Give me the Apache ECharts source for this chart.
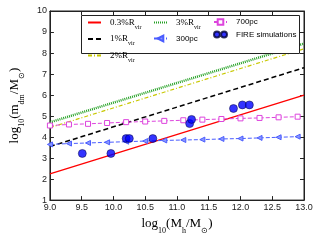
<!DOCTYPE html>
<html><head><meta charset="utf-8">
<script src="https://cdn.jsdelivr.net/npm/echarts@6/dist/echarts.min.js"></script>
<style>html,body{margin:0;padding:0;background:#fff}#c{width:320px;height:240px}</style>
</head><body><div id="c"></div>
<script>
// analytic lines: [x, y] endpoints
const xEnds = [9.0, 13.0];
const r03 = [2.25, 6.0];
const r1 = [3.55, 7.3];
const r2 = [4.45, 8.2];
const r3 = [4.7, 8.45];
// sampled radii series
const xSample = [9.0, 9.3, 9.6, 9.9, 10.2, 10.5, 10.8, 11.1, 11.4, 11.7, 12.0, 12.3, 12.6, 12.9];
const pc700 = [4.55, 4.6, 4.63, 4.67, 4.71, 4.74, 4.77, 4.8, 4.83, 4.86, 4.89, 4.91, 4.94, 4.97];
const pc300 = [3.65, 3.69, 3.72, 3.75, 3.78, 3.81, 3.84, 3.86, 3.88, 3.91, 3.93, 3.96, 3.99, 4.02];
// FIRE simulations
const fireX = [9.51, 9.96, 10.2, 10.25, 10.62, 11.2, 11.23, 11.89, 12.03, 12.14];
const fireY = [3.22, 3.22, 3.93, 3.93, 3.93, 4.64, 4.84, 5.36, 5.53, 5.53];
const xTicks = [9.0, 9.5, 10.0, 10.5, 11.0, 11.5, 12.0, 12.5, 13.0];
const yTicks = [1, 2, 3, 4, 5, 6, 7, 8, 9, 10];

const pair = (xs, ys) => xs.map((x, i) => [x, ys[i]]);
const serif = 'Liberation Serif';
const sans = 'Liberation Sans';
const richSub = {
  sub: {fontFamily: serif, fontSize: 6, verticalAlign: 'bottom', padding: [0,0,-3,0], color: '#000'},
  n: {fontFamily: serif, fontSize: 9, color: '#000'}
};
const fmtLegend = (name) => {
  if (name.indexOf('Rvir') >= 0) return '{n|' + name.replace('Rvir', 'R') + '}{sub|vir}';
  return name;
};
const noSym = {opacity: 0};

const chart = echarts.init(document.getElementById('c'), null, {renderer: 'canvas'});
const legendBase = {
  orient: 'vertical', padding: 0, itemWidth: 13, itemHeight: 7, itemGap: 4.5,
  backgroundColor: 'transparent', borderWidth: 0, selectedMode: false, z: 5,
  textStyle: {fontFamily: sans, fontSize: 8, color: '#000', rich: richSub, padding: [0, 0, 0, 4]},
  formatter: fmtLegend
};
chart.setOption({
  animation: false,
  grid: {left: 36, right: 16, top: 11, bottom: 34, show: true, borderColor: '#222', borderWidth: 1, backgroundColor: 'transparent'},
  xAxis: [{
    type: 'value', min: 9, max: 13, interval: 0.5,
    axisLine: {show: true, onZero: false, lineStyle: {color: '#222'}},
    axisTick: {show: true, inside: true, length: 4, lineStyle: {color: '#222'}},
    axisLabel: {fontFamily: sans, fontSize: 9, color: '#222', margin: 3, formatter: v => v.toFixed(1)},
    splitLine: {show: false},
    name: 'log{sub|10}(M{sub|h}/M{sub|⊙})', nameLocation: 'middle', nameGap: 14,
    nameTextStyle: {fontFamily: serif, fontSize: 13, color: '#000', rich: {sub: {fontFamily: serif, fontSize: 8, verticalAlign: 'bottom', padding: [0,0,-5,0], color:'#000'}}}
  }, {
    type: 'value', position: 'top', min: 9, max: 13, interval: 0.5,
    axisLine: {show: true, onZero: false, lineStyle: {color: '#222'}},
    axisTick: {show: true, inside: true, length: 4, lineStyle: {color: '#222'}},
    axisLabel: {show: false}, splitLine: {show: false}
  }],
  yAxis: [{
    type: 'value', min: 1, max: 10, interval: 1,
    axisLine: {show: true, onZero: false, lineStyle: {color: '#222'}},
    axisTick: {show: true, inside: true, length: 4, lineStyle: {color: '#222'}},
    axisLabel: {fontFamily: sans, fontSize: 9, color: '#222', margin: 3},
    splitLine: {show: false},
    name: 'log{sub|10}(m{sub|dm}/M{sub|⊙})', nameLocation: 'middle', nameGap: 15, nameRotate: 90,
    nameTextStyle: {fontFamily: serif, fontSize: 13, color: '#000', rich: {sub: {fontFamily: serif, fontSize: 8, verticalAlign: 'bottom', padding: [0,0,-5,0], color:'#000'}}}
  }, {
    type: 'value', position: 'right', min: 1, max: 10, interval: 1,
    axisLine: {show: true, onZero: false, lineStyle: {color: '#222'}},
    axisTick: {show: true, inside: true, length: 4, lineStyle: {color: '#222'}},
    axisLabel: {show: false}, splitLine: {show: false}
  }],
  graphic: [{
    type: 'rect', shape: {x: 81.5, y: 15.5, width: 218, height: 38}, z: 4,
    style: {fill: '#fff', stroke: '#222', lineWidth: 1}
  }],
  legend: [
    Object.assign({}, legendBase, {left: 87, top: 18, data: [
      {name: '0.3%Rvir', itemStyle: noSym}, {name: '1%Rvir', itemStyle: noSym}, {name: '2%Rvir', itemStyle: noSym}]}),
    Object.assign({}, legendBase, {left: 153, top: 18, data: [{name: '3%Rvir', itemStyle: noSym}, '300pc']}),
    Object.assign({}, legendBase, {left: 213, top: 18, data: ['700pc', {name: 'FIRE simulations', icon: 'path://M0,5a5,5 0 1,0 10,0a5,5 0 1,0 -10,0M12,5a5,5 0 1,0 10,0a5,5 0 1,0 -10,0'}]})
  ],
  series: [
    {name: '0.3%Rvir', type: 'line', data: pair(xEnds, r03), symbol: 'none', lineStyle: {color: '#ff0000', width: 1.3}, itemStyle: {color: '#ff0000'}},
    {name: '1%Rvir', type: 'line', data: pair(xEnds, r1), symbol: 'none', lineStyle: {color: '#000', width: 1.5, type: [5, 3]}, itemStyle: {color: '#000'}},
    {name: '2%Rvir', type: 'line', data: pair(xEnds, r2), symbol: 'none', lineStyle: {color: '#c8c800', width: 1.2, type: [4, 2, 1, 2]}, itemStyle: {color: '#c8c800'}},
    {name: '3%Rvir', type: 'line', data: pair(xEnds, r3), symbol: 'none', lineStyle: {color: '#22a022', width: 2.5, type: [1, 1]}, itemStyle: {color: '#22a022'}},
    {name: '300pc', type: 'line', data: pair(xSample, pc300), symbol: 'triangle', symbolSize: 5, symbolRotate: 90,
      lineStyle: {color: '#4a5cff', width: 1, type: [4, 2]}, itemStyle: {color: '#8a98ff', borderColor: '#4a5cff', borderWidth: 1}},
    {name: '700pc', type: 'line', data: pair(xSample, pc700), symbol: 'rect', symbolSize: 5,
      lineStyle: {color: '#dd44dd', width: 1, type: [4, 2]}, itemStyle: {color: '#fff', borderColor: '#dd44dd', borderWidth: 1}},
    {name: 'FIRE simulations', type: 'scatter', data: pair(fireX, fireY), symbol: 'circle', symbolSize: 8, z: 3,
      itemStyle: {color: '#0000ff', borderColor: '#000033', borderWidth: 0.6}}
  ]
});
</script></body></html>
